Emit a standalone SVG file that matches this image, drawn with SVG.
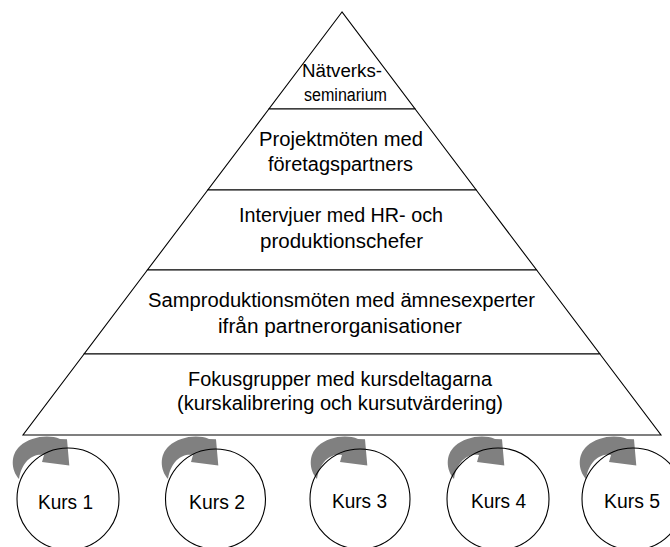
<svg xmlns="http://www.w3.org/2000/svg" width="670" height="547" viewBox="0 0 670 547">
<defs>
<style>
.layer{fill:#fff;stroke:#000;stroke-width:1.1;stroke-linejoin:miter}
.t{font-family:"Liberation Sans",Arial,sans-serif;font-size:19.5px;fill:#000}
.ts{font-size:18px}
.circ{fill:none;stroke:#000;stroke-width:1.1}
.arr{fill:#808080;stroke:none}
</style>
<path id="carrow" d="M19,479 C11,470 10,455 20,446 C30,437 48,434 60,439 L67,439.3 L69.3,465.5 L42,462 L44,455 C34,453 22,460 19,479 Z"/>
</defs>
<rect width="670" height="547" fill="#fff"/>
<g id="pyramid">
<g id="layer1"><polygon class="layer" points="342,12 268.9,109 415.1,109"/>
<text class="t ts" x="302" y="77" textLength="80" lengthAdjust="spacingAndGlyphs">Nätverks-</text>
<text class="t ts" x="304" y="101" textLength="83" lengthAdjust="spacingAndGlyphs">seminarium</text></g>
<g id="layer2"><polygon class="layer" points="268.9,109 415.1,109 476.2,190 207.8,190"/>
<text class="t" x="259" y="146" textLength="164" lengthAdjust="spacingAndGlyphs">Projektmöten med</text>
<text class="t" x="268" y="171" textLength="145" lengthAdjust="spacingAndGlyphs">företagspartners</text></g>
<g id="layer3"><polygon class="layer" points="207.8,190 476.2,190 536.6,270 147.4,270"/>
<text class="t" x="239" y="222" textLength="204" lengthAdjust="spacingAndGlyphs">Intervjuer med HR- och</text>
<text class="t" x="260" y="248" textLength="163" lengthAdjust="spacingAndGlyphs">produktionschefer</text></g>
<g id="layer4"><polygon class="layer" points="147.4,270 536.6,270 599.9,354 84.1,354"/>
<text class="t" x="148" y="307" textLength="387" lengthAdjust="spacingAndGlyphs">Samproduktionsmöten med ämnesexperter</text>
<text class="t" x="218" y="333" textLength="244" lengthAdjust="spacingAndGlyphs">ifrån partnerorganisationer</text></g>
<g id="layer5"><polygon class="layer" points="84.1,354 599.9,354 661,435 23,435"/>
<text class="t" x="188" y="386" textLength="304" lengthAdjust="spacingAndGlyphs">Fokusgrupper med kursdeltagarna</text>
<text class="t" x="177" y="410" textLength="326" lengthAdjust="spacingAndGlyphs">(kurskalibrering och kursutvärdering)</text></g>
</g>
<g id="connectors">
<use href="#carrow" class="arr"/>
<use href="#carrow" class="arr" transform="translate(149,0)"/>
<use href="#carrow" class="arr" transform="translate(298,0)"/>
<use href="#carrow" class="arr" transform="translate(435,0)"/>
<use href="#carrow" class="arr" transform="translate(567,0)"/>
</g>
<g id="kurs1"><circle class="circ" cx="68" cy="499" r="51"/><text class="t" x="38" y="509" textLength="55" lengthAdjust="spacingAndGlyphs">Kurs 1</text></g>
<g id="kurs2"><circle class="circ" cx="215.5" cy="499" r="50"/><text class="t" x="189" y="509" textLength="56" lengthAdjust="spacingAndGlyphs">Kurs 2</text></g>
<g id="kurs3"><circle class="circ" cx="360" cy="499" r="50"/><text class="t" x="332" y="508" textLength="55" lengthAdjust="spacingAndGlyphs">Kurs 3</text></g>
<g id="kurs4"><circle class="circ" cx="498" cy="499" r="51"/><text class="t" x="471" y="508" textLength="55" lengthAdjust="spacingAndGlyphs">Kurs 4</text></g>
<g id="kurs5"><circle class="circ" cx="633" cy="499" r="51"/><text class="t" x="604" y="508" textLength="56" lengthAdjust="spacingAndGlyphs">Kurs 5</text></g>
</svg>
